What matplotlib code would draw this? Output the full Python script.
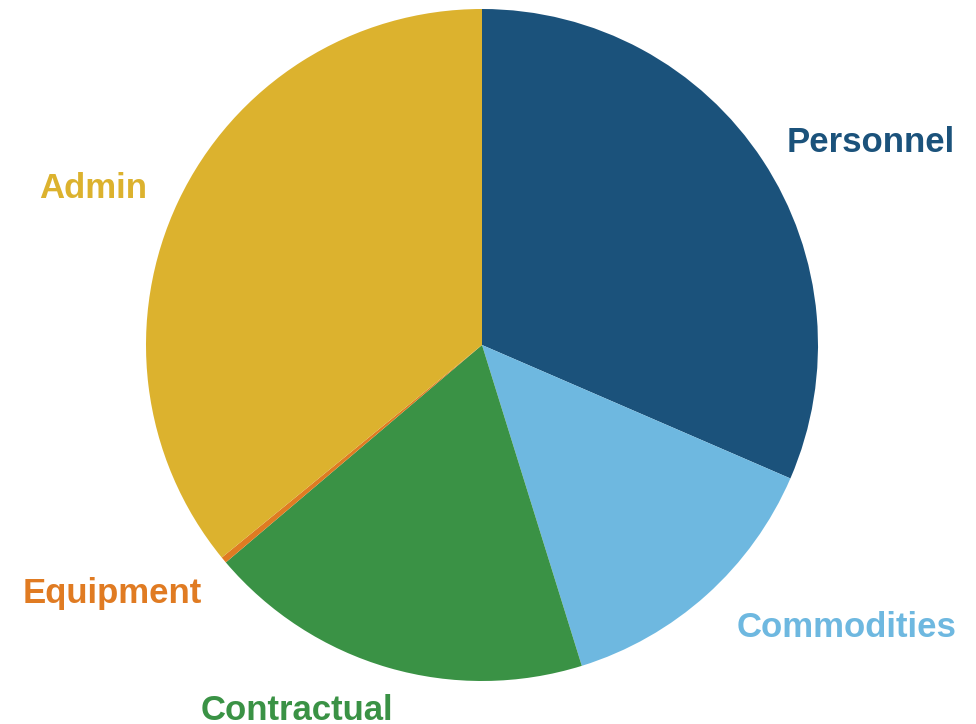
import matplotlib

matplotlib.use("Agg")
import matplotlib.pyplot as plt  # noqa: E402

# budget share by category, percent
categories = ["Personnel", "Commodities", "Contractual", "Equipment", "Admin"]
shares = [31.5, 13.7, 18.6, 0.3, 35.9]
colors = ["#1b527b", "#6eb8e0", "#3a9245", "#e07b22", "#dcb22e"]

CX, CY, R = 482, 345, 336          # pie centre / radius in px
# label anchors (px, baseline) and alignment
LABEL_AT = [(787, 152, "left"), (737, 637, "left"), (393, 720, "right"),
            (202, 603, "right"), (147, 198, "right")]


def px(x, y):
    return (x - CX) / R, (CY - y) / R


def main() -> None:
    plt.rcParams["font.family"] = ["Liberation Sans", "DejaVu Sans"]
    fig = plt.figure(figsize=(9.76, 7.24), dpi=100)
    ax = fig.add_axes([0, 0, 1, 1])
    _, texts = ax.pie(shares, labels=categories, colors=colors,
                      startangle=90, counterclock=False,
                      labeldistance=1.1, radius=1.0,
                      textprops={"fontsize": 25, "fontweight": "bold"})
    for t, c, (x, y, ha) in zip(texts, colors, LABEL_AT):
        t.set_color(c)
        t.set_position(px(x, y))
        t.set_ha(ha)
        t.set_va("baseline")
    ax.set_xlim(-CX / R, (976 - CX) / R)
    ax.set_ylim(-(724 - CY) / R, CY / R)
    ax.set_aspect("auto")
    ax.axis("off")
    fig.savefig("out.png", dpi=100)


if __name__ == "__main__":
    main()
